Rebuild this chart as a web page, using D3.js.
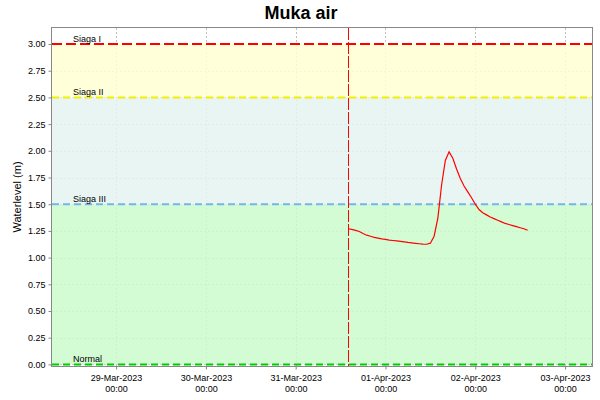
<!DOCTYPE html>
<html>
<head>
<meta charset="utf-8">
<script src="https://cdn.jsdelivr.net/npm/d3@7"></script>
<style>
  body { margin: 0; background: #fff; }
  svg { font-family: "Liberation Sans", Arial, sans-serif; }
</style>
</head>
<body>
<script>
// hourly readings starting 31-Mar-2023 14:00
let startTime = "2023-03-31 14:00";
let levels = [
  1.27, 1.265, 1.255, 1.245, 1.225, 1.21, 1.20, 1.19, 1.183, 1.176,
  1.17, 1.164, 1.16, 1.156, 1.152, 1.147, 1.142, 1.138, 1.134, 1.13,
  1.126, 1.125, 1.135, 1.20, 1.37, 1.68, 1.91, 1.99, 1.93, 1.83,
  1.74, 1.67, 1.615, 1.56, 1.50, 1.45, 1.42, 1.40, 1.38, 1.365,
  1.35, 1.335, 1.32, 1.31, 1.30, 1.29, 1.28, 1.27, 1.256
];

let levelNames = ["Normal", "Siaga III", "Siaga II", "Siaga I"];
let levelValues = [0, 1.5, 2.5, 3.0];
let levelColors = ["#00cc00", "#74b4ee", "#f0f000", "#ff0000"];
let bandColors = ["#ccfbcc", "#e4f3f1", "#ffffd2"];

let xTicks = ["2023-03-29", "2023-03-30", "2023-03-31", "2023-04-01", "2023-04-02", "2023-04-03"];
let yTicks = [0, 0.25, 0.5, 0.75, 1, 1.25, 1.5, 1.75, 2, 2.25, 2.5, 2.75, 3];
let xRange = ["2023-03-28 06:52", "2023-04-03 07:12"];
let markerTime = "2023-03-31 14:00";

let w = 600, h = 400;
let margin = {top: 28, right: 8, bottom: 34, left: 52};
let width = w - margin.left - margin.right, height = h - margin.top - margin.bottom;

let parse = d3.timeParse("%Y-%m-%d %H:%M");
let parseDay = d3.timeParse("%Y-%m-%d");
let t0 = parse(startTime);
let data = levels.map(function (v, i) {
  return {t: d3.timeHour.offset(t0, i), v: v};
});

let xScale = d3.scaleTime().domain(xRange.map(parse)).range([0, width]);
let yScale = d3.scaleLinear().domain([-0.015, 3.15]).range([height, 0]);

let svg = d3.select("body").append("svg").attr("width", w).attr("height", h);

svg.append("text")
  .attr("x", 301).attr("y", 19)
  .attr("text-anchor", "middle")
  .attr("font-size", "18px").attr("font-weight", "bold")
  .text("Muka air");

let g = svg.append("g").attr("transform", "translate(" + margin.left + "," + margin.top + ")");

// grid (bands are drawn on top, semi transparent)
g.append("g").selectAll("line").data(xTicks.map(d => parseDay(d))).enter().append("line")
  .attr("x1", d => Math.round(xScale(d)) + 0.5).attr("x2", d => Math.round(xScale(d)) + 0.5)
  .attr("y1", 0).attr("y2", height)
  .attr("stroke", "#c0c0c0").attr("stroke-dasharray", "2,2");
g.append("g").selectAll("line").data(yTicks).enter().append("line")
  .attr("y1", d => Math.round(yScale(d)) + 0.5).attr("y2", d => Math.round(yScale(d)) + 0.5)
  .attr("x1", 0).attr("x2", width)
  .attr("stroke", "#c0c0c0").attr("stroke-dasharray", "2,2");

// background bands
for (let i = 0; i < bandColors.length; ++i) {
  g.append("rect")
    .attr("x", 0).attr("width", width)
    .attr("y", yScale(levelValues[i + 1]))
    .attr("height", yScale(levelValues[i]) - yScale(levelValues[i + 1]))
    .attr("fill", bandColors[i]).attr("fill-opacity", 0.85);
}

// threshold lines + labels
levelValues.forEach(function (v, i) {
  g.append("line")
    .attr("x1", 0).attr("x2", width)
    .attr("y1", yScale(v)).attr("y2", yScale(v))
    .attr("stroke", levelColors[i]).attr("stroke-width", 2)
    .attr("stroke-dasharray", i == 3 ? "10,4" : "7,4");
  g.append("text")
    .attr("x", 21).attr("y", yScale(v) - 2)
    .attr("font-size", "9px").attr("fill", "#000")
    .text(levelNames[i]);
});

// marker
g.append("line")
  .attr("x1", Math.round(xScale(parse(markerTime))) + 0.5)
  .attr("x2", Math.round(xScale(parse(markerTime))) + 0.5)
  .attr("y1", 0).attr("y2", height)
  .attr("stroke", "#ff0000").attr("stroke-dasharray", "12,2");

// series
let line = d3.line().x(d => xScale(d.t)).y(d => yScale(d.v));
g.append("path").datum(data)
  .attr("d", line)
  .attr("fill", "none").attr("stroke", "#ff0000").attr("stroke-width", 1.2);

// outline
g.append("rect").attr("x", -0.5).attr("y", -0.5).attr("width", width + 1).attr("height", height + 1)
  .attr("fill", "none").attr("stroke", "#888");

// axes
let fmtDay = d3.timeFormat("%d-%b-%Y"), fmtHour = d3.timeFormat("%H:%M");
let xAxis = g.append("g").attr("transform", "translate(0," + (height + 0.5) + ")")
  .call(d3.axisBottom(xScale).tickValues(xTicks.map(d => parseDay(d))).tickSizeOuter(0).tickSize(3).tickFormat(""));
xAxis.select(".domain").remove();
xAxis.selectAll(".tick line").attr("stroke", "#888");
xAxis.selectAll(".tick").append("text")
  .attr("fill", "#000").attr("font-size", "9px").attr("text-anchor", "middle")
  .each(function (d) {
    let t = d3.select(this);
    t.append("tspan").attr("x", 0).attr("y", 14).text(fmtDay(d));
    t.append("tspan").attr("x", 0).attr("y", 25).text(fmtHour(d));
  });

let yAxis = g.append("g").attr("transform", "translate(-0.5,0)")
  .call(d3.axisLeft(yScale).tickValues(yTicks).tickSizeOuter(0).tickSize(3).tickPadding(3).tickFormat(d3.format(".2f")));
yAxis.select(".domain").remove();
yAxis.selectAll(".tick line").attr("stroke", "#888");
yAxis.selectAll("text").attr("font-size", "9px").attr("fill", "#000").attr("font-family", "Liberation Sans, Arial, sans-serif");

svg.append("text")
  .attr("transform", "translate(21," + (margin.top + height / 2) + ") rotate(-90)")
  .attr("text-anchor", "middle").attr("font-size", "11px")
  .text("Waterlevel (m)");
</script>
</body>
</html>
